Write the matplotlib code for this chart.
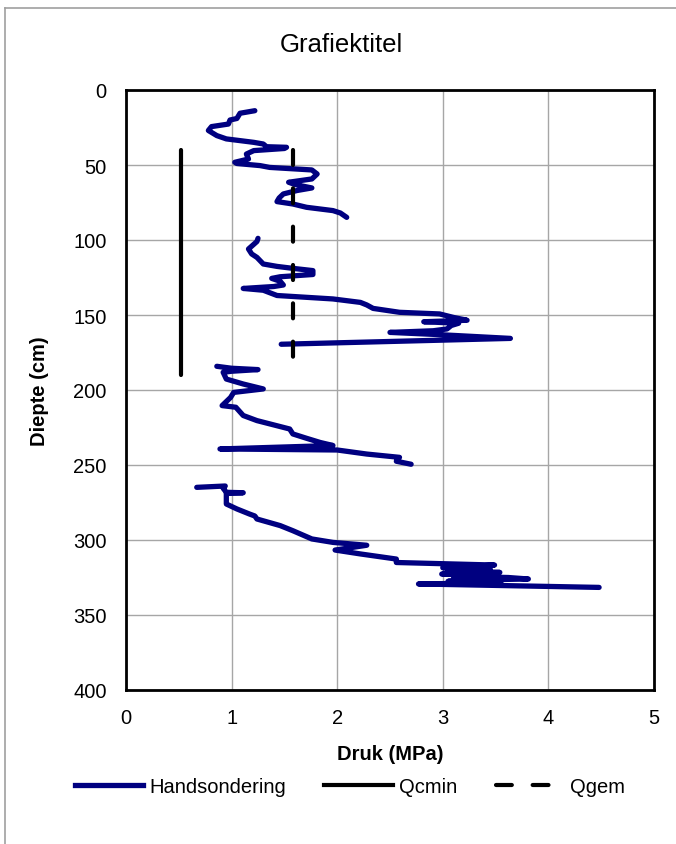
import numpy as np
import matplotlib
matplotlib.use("Agg")
import matplotlib.pyplot as plt
from matplotlib.lines import Line2D

plt.rcParams['font.family'] = ['Liberation Sans', 'DejaVu Sans']

# Hand cone penetration profile: depth (cm) and pressure (MPa), NaN separates runs
depth_cm = [
    13.8, 15.5, 19.0, 20.0, 22.7, 24.4, 27.0, 30.4, 32.6, 34.9, 36.0, 37.8, 38.2, 39.0,
    40.4, 42.7, 46.0, 48.2, 49.0, 50.4, 51.6, 53.3, 56.0, 59.3, 61.5, 63.0, 65.3, 67.0,
    69.3, 72.0, 74.4, 76.0, 78.2, 80.4, 82.0, 84.9,
    np.nan,
    98.9, 101.0, 106.0, 109.3, 111.6, 116.0, 117.6, 118.9, 120.4, 123.0, 124.5, 125.6,
    127.5, 130.0, 131.0, 132.3, 133.5, 137.0, 139.3, 141.6, 143.3, 145.6, 148.2, 149.3,
    151.6, 153.5, 154.5, 155.5, 157.0, 159.3, 160.5, 161.6, 163.0, 165.6, 169.5,
    np.nan,
    184.2, 185.5, 186.4, 187.5, 188.2, 192.7, 196.0, 199.3, 201.6, 205.0, 210.4, 211.5,
    217.0, 220.4, 224.9, 226.0, 229.3, 232.2, 235.0, 237.0, 239.3, 240.0, 242.7, 244.9,
    247.5, 249.5,
    np.nan,
    264.9, 264.0, 265.5, 268.2, 268.5, 269.0, 276.0, 279.3, 282.7, 284.0, 286.0, 290.4,
    293.8, 299.3, 301.6, 303.5, 306.7, 309.3, 312.7, 315.0, 316.7, 317.5, 318.5, 319.5,
    320.5, 321.6, 322.7, 323.5, 324.3, 325.0, 326.0, 326.8, 327.5, 328.5, 329.3, 331.6,
]
pressure_mpa = [
    1.22, 1.08, 1.05, 0.985, 0.97, 0.81, 0.78, 0.86, 0.95, 1.21, 1.30, 1.33, 1.52, 1.50,
    1.21, 1.14, 1.16, 1.03, 1.05, 1.27, 1.36, 1.76, 1.81, 1.76, 1.54, 1.60, 1.76, 1.62,
    1.49, 1.45, 1.43, 1.58, 1.71, 1.96, 2.03, 2.09,
    np.nan,
    1.25, 1.24, 1.16, 1.19, 1.24, 1.30, 1.43, 1.58, 1.77, 1.77, 1.46, 1.38,
    1.46, 1.49, 1.40, 1.11, 1.30, 1.43, 1.96, 2.22, 2.28, 2.34, 2.59, 2.97,
    3.10, 3.23, 2.82, 3.15, 3.08, 3.04, 2.91, 2.50, 2.94, 3.64, 1.47,
    np.nan,
    0.86, 1.00, 1.25, 1.00, 0.92, 0.95, 1.11, 1.30, 1.02, 0.99, 0.91, 1.04,
    1.11, 1.24, 1.49, 1.55, 1.58, 1.71, 1.84, 1.96, 0.89, 2.00, 2.28, 2.59,
    2.56, 2.70,
    np.nan,
    0.67, 0.94, 0.92, 0.95, 1.11, 0.95, 0.95, 1.05, 1.17, 1.22, 1.24, 1.46,
    1.58, 1.76, 1.96, 2.28, 1.98, 2.22, 2.56, 2.56, 3.49, 3.30, 3.00, 3.45,
    3.05, 3.54, 2.99, 3.50, 3.10, 3.62, 3.81, 3.20, 3.05, 3.55, 2.77, 4.48,
]

# Minimum and mean cone resistance over the evaluated layer
qcmin_value = 0.52
qcmin_depth = [40, 190]
qgem_value = 1.58
qgem_depth = [40, 180]

x_ticks = [0, 1, 2, 3, 4, 5]
y_ticks = [0, 50, 100, 150, 200, 250, 300, 350, 400]

fig = plt.figure(figsize=(6.76, 8.45), dpi=100)
ax = fig.add_axes([126 / 676, 1 - 691 / 845, 528 / 676, 600 / 845])

navy = '#000080'
ax.plot(pressure_mpa, depth_cm, color=navy, lw=3.8, solid_capstyle='round',
        solid_joinstyle='round', label='Handsondering', zorder=3)
ax.plot([qcmin_value, qcmin_value], qcmin_depth, color='black', lw=3.0,
        solid_capstyle='round', label='Qcmin', zorder=4)
ax.plot([qgem_value, qgem_value], qgem_depth, color='black', lw=3.0,
        dashes=(3.6, 5.6), dash_capstyle='round', label='Qgem', zorder=4)

ax.set_xlim(0, 5)
ax.set_ylim(400, 0)
ax.set_xticks(x_ticks)
ax.set_yticks(y_ticks)
ax.tick_params(length=0, labelsize=14.5)
ax.tick_params(axis='x', pad=13)
ax.tick_params(axis='y', pad=14)
ax.grid(True, color='#a6a6a6', lw=1.0)
ax.set_axisbelow(True)
for s in ax.spines.values():
    s.set_linewidth(2.0)
    s.set_color('black')

ax.set_xlabel('Druk (MPa)', fontsize=14.5, fontweight='bold', labelpad=12)
ax.set_ylabel('Diepte (cm)', fontsize=14.5, fontweight='bold', labelpad=17)
fig.text(341 / 676, 1 - 45 / 845, 'Grafiektitel', ha='center', va='center', fontsize=18.5)

handles = [
    Line2D([], [], color=navy, lw=3.8),
    Line2D([], [], color='black', lw=3.0),
    Line2D([], [], color='black', lw=3.0, dashes=(3.8, 5.0), dash_capstyle='round'),
]
fig.legend(handles, ['Handsondering', 'Qcmin', 'Qgem'], loc='center',
           bbox_to_anchor=(350 / 676, 1 - 788 / 845), ncol=3, frameon=False,
           fontsize=14.5, handlelength=3.4, handletextpad=0.3, columnspacing=1.9)

# Chart area border
fig.add_artist(Line2D([5 / 676, 1.0], [1 - 9 / 845] * 2, transform=fig.transFigure,
                      color='#a0a0a0', lw=1.2))
fig.add_artist(Line2D([5 / 676] * 2, [0, 1 - 9 / 845], transform=fig.transFigure,
                      color='#a0a0a0', lw=1.2))

fig.savefig('out.png', dpi=100)
